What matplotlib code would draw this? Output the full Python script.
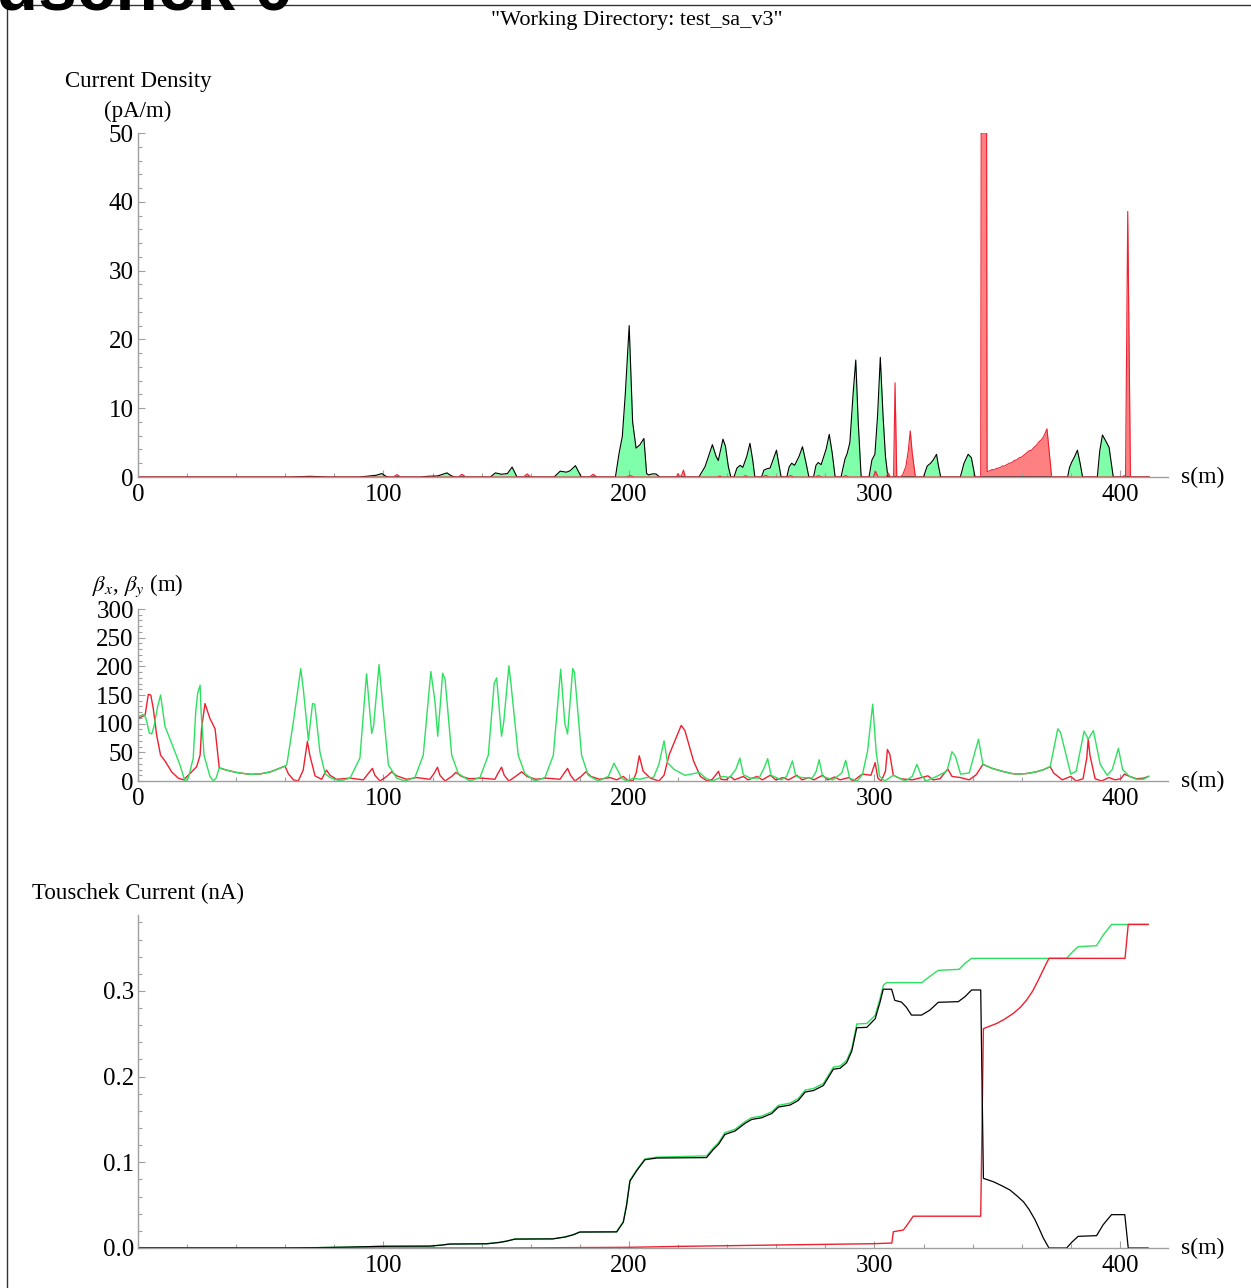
import matplotlib
matplotlib.use("Agg")
import matplotlib.pyplot as plt
from matplotlib.lines import Line2D
from matplotlib.ticker import MultipleLocator, FormatStrFormatter

plt.rcParams['font.family'] = ['Liberation Serif', 'DejaVu Serif']
plt.rcParams['mathtext.fontset'] = 'stix'

W, H = 1251, 1288

# ---- Current density (pA/m): green = one side, red = other side ----
dens_green_s = [0, 62, 66, 70, 74, 78, 90, 93, 97, 99.3, 101, 102, 115, 118, 122, 125.9, 127.5, 129,
                143.5, 145.6, 148, 150.5, 152.4, 154.4, 169.5, 172, 174.5, 176, 178.2, 180.6,
                194.5, 196, 197.3, 198.5, 200.1, 201.5, 202.9, 204.5, 206.1, 207.2, 208, 209.5, 211, 212.5,
                228.5, 231, 234, 235.5, 236.4, 238.3, 239.3, 240.5, 241.5,
                242.8, 244, 245.3, 246.4, 248, 249.3, 250.4, 251.3,
                254, 255, 256.2, 257.5, 259, 260.1, 261, 262,
                264.3, 265.3, 266.3, 267.5, 269.3, 270.7, 272, 273.3,
                275.2, 276.2, 277.1, 278.3, 280.3, 281.6, 282.8, 284,
                286.4, 288, 288.9, 290, 291.3, 292.4, 293.4, 294.6,
                297.8, 299, 300.2, 301.3, 302.4, 303.5, 304.5, 305.5,
                320, 321.5, 322.9, 324, 325.3, 326, 327,
                335, 336.5, 338.2, 339.5, 341,
                378.7, 379.5, 380.3, 381.6, 382.7, 383.8, 384.8,
                390.8, 391.8, 392.9, 394.3, 395.6, 396.5, 397.3, 412]
dens_green = [0, 0, 0.05, 0.1, 0.05, 0, 0, 0.1, 0.25, 0.5, 0.1, 0, 0, 0.1, 0.15, 0.6, 0.2, 0,
              0, 0.6, 0.4, 0.5, 1.45, 0, 0, 0.85, 0.7, 0.9, 1.65, 0,
              0, 3.5, 5.9, 12, 22, 8, 4.2, 4.7, 5.6, 0.5, 0.3, 0.45, 0.45, 0,
              0, 1.5, 4.7, 3.0, 2.4, 5.5, 4.5, 1.5, 0,
              0, 1.3, 1.7, 1.4, 3.0, 4.9, 2.5, 0,
              0, 1.0, 1.2, 1.3, 2.8, 3.9, 2.0, 0,
              0, 1.5, 2.0, 1.7, 3.0, 4.4, 2.3, 0,
              0, 1.7, 2.1, 1.8, 4.0, 6.2, 3.5, 0,
              0, 2.6, 3.4, 5, 12, 17, 8, 0,
              0, 2.5, 3.3, 9, 17.4, 9, 3, 0,
              0, 1.6, 2.0, 2.5, 3.3, 1.8, 0,
              0, 2.0, 3.3, 2.8, 0,
              0, 1.4, 2.1, 3.0, 3.9, 2.0, 0,
              0, 3.8, 6.1, 5.2, 4.3, 2.0, 0, 0]

dens_red_s = [0, 104, 105.5, 107, 130.5, 132, 133.5, 157, 158.5, 160, 184, 185.4, 187, 199, 200.5, 202,
              219.3, 220, 220.7, 221.5, 222.2, 223, 236, 237, 238, 246.5, 247.5, 248.5, 254.5, 255.7, 257,
              264.5, 265.8, 267, 276, 277.2, 278.5, 287, 288.3, 289.5, 299.5, 300.5, 301.5, 304.8, 305.6, 306.5,
              307.8, 308.4, 309.1, 310.5, 311.5, 312.8, 313.8, 314.6, 315.4, 316.7,
              343.3, 343.5, 345.7, 345.9, 347, 348, 348.6, 349.5, 350.5, 351.5, 352, 353, 354, 355, 356,
              357, 358, 359, 360, 361, 362, 363, 364, 365, 366, 367, 368, 369, 370.3, 372.2,
              401, 401.8, 402.3, 403.2, 404.3, 412]
dens_red = [0, 0, 0.35, 0, 0, 0.4, 0, 0, 0.45, 0, 0, 0.4, 0, 0, 0.2, 0,
            0, 0.5, 0, 0.3, 1.0, 0, 0, 0.15, 0, 0, 0.2, 0, 0, 0.25, 0,
            0, 0.2, 0, 0, 0.2, 0, 0, 0.2, 0, 0, 0.8, 0, 0, 0.6, 0,
            0, 13.7, 0, 0, 0.3, 1.5, 3.8, 6.7, 3.5, 0,
            0, 50, 50, 0.8, 0.9, 1.1, 1.0, 1.2, 1.3, 1.4, 1.6, 1.6, 1.8, 2.0, 2.1,
            2.4, 2.5, 2.8, 2.9, 3.2, 3.5, 3.8, 3.9, 4.3, 4.6, 5.1, 5.4, 5.9, 7.0, 0,
            0, 0.2, 0, 38.6, 0, 0]

# ---- Beta functions (m) ----
beta_y_s = [0, 2.2, 3.2, 4.6, 5.6, 6.5, 8.0, 9.2, 10.2, 11, 13.7, 17.1, 19.1, 20.5, 22.5, 23.5, 24.3, 25.3,
            25.7, 26.9, 29.3, 30.7, 31.8, 33.1, 36, 40, 44, 46.3, 50, 54, 57, 59.9,
            60.6, 63.3, 66.3, 67.3, 69.4, 71.1, 72, 74.1, 76.2, 78.2, 82.3, 86.4, 90.4, 93.1, 95.2, 96, 98.2,
            99.3, 102, 105.4, 108.8, 112.8, 116.2, 119.3, 121, 122.1, 123.4, 124.1, 125.1, 127.8, 130.5,
            135.2, 139.3, 142.7, 145.1, 146.1, 148.1, 149, 151.1, 152, 154.9, 157.6, 161.7, 165.8, 169.2,
            172.2, 173.9, 175, 177.1, 177.8, 180.7, 183.4, 187.5, 191.6, 193.9, 195, 197, 199, 201.8,
            204.5, 207, 210, 212.2, 214.3, 215.7, 218.5, 222.8, 226.5, 228.7, 231.2, 234, 238.2, 241,
            243.5, 245.2, 246.6, 249.4, 253, 255.1, 256.5, 257.9, 262.1, 264.2, 266.6, 268, 270.5, 274.7,
            276.3, 277.5, 278.9, 283.1, 286.7, 288.3, 289.9, 293, 295.1, 297.2, 299.3, 300.7, 302.1, 304.2,
            307.7, 312.6, 315.4, 317.3, 319, 321.1, 325.3, 329.5, 331.6, 333, 335.1, 338.6, 342.4, 344.2,
            348, 352, 356, 358.3, 362, 366, 369, 371.6, 374.7, 375.8, 380, 382.2, 385.4, 387.1, 389.2,
            392, 394.8, 396.9, 399.4, 401.1, 403.9, 406.7, 409.6, 411.7]
beta_y = [112, 116, 110, 84, 82, 95, 130, 150, 120, 95, 66, 28, 0, 5, 40, 120, 153, 167,
          121, 45, 8, 0, 5, 23, 19, 15, 12.5, 11.6, 12.5, 16, 21, 26,
          28, 103, 196, 162, 71, 135, 134, 51, 13, 6, 0, 5, 40, 187, 83, 97, 203,
          150, 28, 5, 0, 6, 45, 191, 138, 78, 147, 188, 177, 45, 13,
          0, 6, 45, 170, 180, 78, 103, 201, 167, 45, 13, 0, 6, 45,
          195, 100, 82, 196, 190, 45, 10, 0, 8, 31, 22, 5, 0, 5,
          3, 6, 6, 29, 70, 32, 20, 10, 13, 15, 5, 0, 8, 6,
          20, 40, 11, 5, 5, 23, 39, 10, 2, 8, 35, 8, 6, 5,
          17, 37, 8, 2, 14, 36, 5, 0, 11, 52, 134, 52, 8, 0,
          10, 0, 8, 29, 10, 0, 8, 17, 51, 43, 12, 14, 73, 29,
          22, 17, 13, 12, 13, 16, 20, 25, 91, 85, 12, 17, 87, 73, 88,
          29, 10, 20, 57, 20, 8, 3, 3, 8]

beta_x_s = [0, 2.9, 4.2, 5.2, 6.2, 7.6, 9.2, 11, 13.7, 16.4, 18.5, 21.2, 23.9, 25.3, 25.9, 27.3, 29.3,
            31.4, 33.1, 36, 40, 44, 46.3, 50, 54, 57, 59.9, 61.2, 63.3, 65.3, 67.3, 69, 70, 72.1,
            74.8, 76.8, 78.2, 80.9, 86.4, 91.8, 93.8, 95.5, 96.5, 98.6, 101.3, 103.3, 105.4, 109.4,
            113.5, 118.9, 120.6, 122, 123, 125.1, 127.8, 129.5, 131.8, 135, 140, 145.4, 146.6, 148.1,
            149.2, 151.1, 153.8, 156.3, 158.5, 162, 166.5, 171.9, 173.5, 175, 176.2, 178, 180.5, 182.5,
            184.5, 188, 192.3, 195, 197.7, 199.7, 201.8, 203, 204.2, 205.8, 208.7, 212.2, 214.3, 216.4,
            221.3, 222.8, 226.3, 229.1, 231.9, 234, 236.5, 237.5, 239.5, 241.3, 243, 246.6, 248.5, 252.2,
            254.3, 257.6, 259.8, 262.8, 265, 268.4, 270.5, 273.3, 275.3, 278.9, 281, 283.8, 286, 289.5,
            291.3, 295.1, 298.6, 300.3, 301.4, 302.8, 304.5, 305.3, 306.3, 307.7, 310.5, 315.4, 318.3,
            321.8, 323.9, 326.7, 329.9, 331.6, 335, 338.6, 341.5, 344.2, 348, 352, 356, 358.3, 362, 366,
            369, 371.6, 373, 376.5, 380, 382.2, 385, 386.5, 387.1, 387.8, 389.9, 392.5, 395.5, 398,
            400.4, 401.8, 404, 406.7, 409.6, 411.7]
beta_x = [109, 115, 151, 150, 127, 80, 45, 35, 16, 5, 2, 13, 25, 45, 92, 135, 109,
          91, 23, 19, 15, 12.5, 11.6, 12.5, 16, 21, 26, 13, 2, 0, 19, 69, 45, 9,
          3, 19, 10, 3, 5, 2, 13, 22, 10, 0, 8, 16, 9, 3,
          6, 3, 13, 24, 10, 0, 8, 15, 8, 4, 5, 3, 13, 24,
          10, 0, 8, 16, 8, 3, 5, 3, 13, 22, 10, 0, 8, 16,
          8, 3, 6, 2, 8, 0, 1, 15, 44, 17, 5, 0, 10, 46,
          97, 88, 35, 8, 0, 3, 17, 3, 2, 8, 2, 8, 2, 8,
          2, 10, 2, 6, 2, 10, 2, 6, 2, 10, 2, 7, 2, 6,
          0, 12, 10, 32, 5, 0, 17, 55, 46, 10, 4, 2, 5,
          9, 2, 4, 21, 8, 6, 2, 11, 29, 22, 17, 13, 12, 13, 16,
          20, 25, 14, 2, 8, 0, 4, 40, 73, 45, 4, 0, 6, 2,
          4, 12, 8, 4, 5, 8]

# ---- Touschek current (nA), cumulative ----
tc_green_s = [0, 60, 70, 85, 100, 119, 124, 127, 142, 147, 150, 153.6, 169, 174, 177.3, 180, 195, 197.7,
              199, 200.4, 203.1, 206.5, 211.3, 231.6, 234.4, 236.5, 239.1, 243.2, 247.3, 250, 254.1,
              258.2, 260.9, 265.6, 269, 271.8, 275.2, 279.2, 283.3, 286, 288.7, 290.8, 292.8, 296.9,
              300.3, 302.3, 303.7, 305, 319.3, 322.6, 326, 334.5, 336.9, 339.6, 378.3, 380.5, 383,
              390.5, 393.2, 396.6, 411.5]
tc_green = [0, 0, 0.0003, 0.001, 0.002, 0.0022, 0.0035, 0.0047, 0.005, 0.0065, 0.008, 0.0105, 0.0108,
            0.013, 0.0156, 0.0188, 0.019, 0.031, 0.05, 0.079, 0.091, 0.104, 0.106, 0.1075, 0.117, 0.123,
            0.1346, 0.1385, 0.1475, 0.152, 0.154, 0.159, 0.1665, 0.169, 0.1746, 0.1843, 0.1862, 0.192,
            0.2112, 0.2123, 0.219, 0.2329, 0.2614, 0.262, 0.2715, 0.2913, 0.307, 0.3097, 0.3097, 0.317,
            0.324, 0.3252, 0.3322, 0.338, 0.338, 0.345, 0.3516, 0.3528, 0.3652, 0.3776, 0.3776]

tc_red_s = [0, 150, 200, 220.8, 260.2, 299.6, 307.1, 307.7, 311.8, 313.8, 315.8, 343.3, 344.4, 349.8,
            353, 356.6, 359.5, 362, 364.5, 366.8, 369, 371.1, 402.1, 403.4, 411.5]
tc_red = [0, 0, 0.0008, 0.0019, 0.0035, 0.005, 0.0058, 0.019, 0.021, 0.0288, 0.0371, 0.0371, 0.256,
          0.262, 0.267, 0.2738, 0.281, 0.2894, 0.30, 0.3128, 0.326, 0.338, 0.338, 0.3776, 0.3776]

tc_black_s = [0, 60, 70, 85, 100, 119, 124, 127, 142, 147, 150, 153.6, 169, 174, 177.3, 180, 195, 197.7,
              199, 200.4, 203.1, 206.5, 211.3, 231.6, 234.4, 236.5, 239.1, 243.2, 247.3, 250, 254.1,
              258.2, 260.9, 265.6, 269, 271.8, 275.2, 279.2, 283.3, 286, 288.7, 290.8, 292.8, 296.9,
              300.3, 302.3, 303.6, 307, 308.3, 311, 313, 315.1, 319.2, 322.6, 326, 334.2, 336.9, 339.6,
              343.3, 344.4, 348.4, 352, 355.2, 358, 360.7, 363, 365.4, 367.2, 368.8, 371.1, 378.3, 380.5,
              383, 390.5, 393.2, 396.6, 402, 403.4, 411.5]
tc_black = [0, 0, 0.0003, 0.001, 0.002, 0.0022, 0.0035, 0.0046, 0.0049, 0.0064, 0.0079, 0.0104, 0.0106,
            0.0128, 0.0154, 0.0186, 0.0188, 0.030, 0.049, 0.078, 0.090, 0.103, 0.105, 0.1055, 0.115,
            0.121, 0.1325, 0.1365, 0.1455, 0.150, 0.152, 0.157, 0.1645, 0.1668, 0.1722, 0.182, 0.1838,
            0.1896, 0.2087, 0.2097, 0.2163, 0.23, 0.257, 0.2575, 0.2675, 0.287, 0.302, 0.302, 0.289,
            0.287, 0.281, 0.2718, 0.2718, 0.2776, 0.2867, 0.2875, 0.2933, 0.3011, 0.3011, 0.0813,
            0.0774, 0.0725, 0.0677, 0.061, 0.054, 0.045, 0.0331, 0.022, 0.0117, 0, 0, 0.007, 0.0136,
            0.0144, 0.0272, 0.0389, 0.0389, 0, 0]

GREEN = '#2ee060'
RED = '#ee2030'
AXC = '#a0a0a0'
FS = 18


def style(ax, ymajor, yminor):
    for side in ['top', 'right']:
        ax.spines[side].set_visible(False)
    for side in ['left', 'bottom']:
        ax.spines[side].set_color(AXC)
        ax.spines[side].set_linewidth(1.0)
    ax.set_xlim(0, 419.6)
    ax.xaxis.set_minor_locator(MultipleLocator(20))
    ax.yaxis.set_major_locator(MultipleLocator(ymajor))
    ax.yaxis.set_minor_locator(MultipleLocator(yminor))
    ax.tick_params(which='both', direction='in', color=AXC, width=0.8, labelsize=FS, labelcolor='black')
    ax.tick_params(which='major', length=5)
    ax.tick_params(axis='x', which='major', pad=5)
    ax.tick_params(axis='y', which='major', pad=3)
    ax.tick_params(which='minor', length=3)
    ax.text(1.013, 0, 's(m)', transform=ax.transAxes, ha='left', va='center', fontsize=17)
    ax.patch.set_alpha(0)


fig = plt.figure(figsize=(W / 100, H / 100), dpi=100)
x0, axw = 138 / W, 1030 / W

# top: current density
ax1 = fig.add_axes([x0, 1 - 477 / H, axw, 344 / H])
ax1.fill_between(dens_green_s, dens_green, 0, color='#80ffaa', lw=0)
ax1.plot(dens_green_s, dens_green, color='black', lw=0.8)
ax1.fill_between(dens_red_s, dens_red, 0, color='#ff8080', lw=0)
ax1.plot(dens_red_s, dens_red, color=RED, lw=0.8)
ax1.set_ylim(0, 50)
style(ax1, 10, 2)
ax1.set_xticks([0, 100, 200, 300, 400])

# middle: beta functions
ax2 = fig.add_axes([x0, 1 - 781 / H, axw, 172 / H])
ax2.plot(beta_x_s, beta_x, color=RED, lw=1.0)
ax2.plot(beta_y_s, beta_y, color=GREEN, lw=1.0)
ax2.set_ylim(0, 300)
style(ax2, 50, 10)
ax2.set_xticks([0, 100, 200, 300, 400])

# bottom: Touschek current
ax3 = fig.add_axes([x0, 1 - 1248 / H, axw, 333 / H])
ax3.plot(tc_green_s, tc_green, color=GREEN, lw=1.0)
ax3.plot(tc_red_s, tc_red, color=RED, lw=1.0)
ax3.plot(tc_black_s, tc_black, color='black', lw=0.9)
ax3.set_ylim(0, 0.3886)
style(ax3, 0.1, 0.02)
ax3.set_xticks([100, 200, 300, 400])
ax3.yaxis.set_major_formatter(FormatStrFormatter('%.1f'))

# labels
cx = 138 / W
fig.text(cx, 1 - 81 / H, 'Current Density', ha='center', va='center', fontsize=16.5)
fig.text(cx, 1 - 111 / H, '(pA/m)', ha='center', va='center', fontsize=16.5)
fig.text(cx, 1 - 586 / H, r'$\beta_x$, $\beta_y$ (m)', ha='center', va='center', fontsize=16.5)
fig.text(cx, 1 - 893 / H, 'Touschek Current (nA)', ha='center', va='center', fontsize=16.5)
fig.text(637 / W, 1 - 21 / H, '"Working Directory: test_sa_v3"', ha='center', va='center', fontsize=16)

# clipped big heading and frame
fig.text(-84 / W, 1 - 10 / H, 'Touschek 0', ha='left', va='baseline', fontsize=50,
         fontweight='bold', family=['Liberation Sans', 'DejaVu Sans'])
fig.add_artist(Line2D([7 / W, 7 / W], [-0.01, 1 - 5 / H], color='#333333', lw=1.0))
fig.add_artist(Line2D([7 / W, 1.01], [1 - 5 / H, 1 - 5 / H], color='#333333', lw=1.0))

fig.savefig('out.png', dpi=100)
